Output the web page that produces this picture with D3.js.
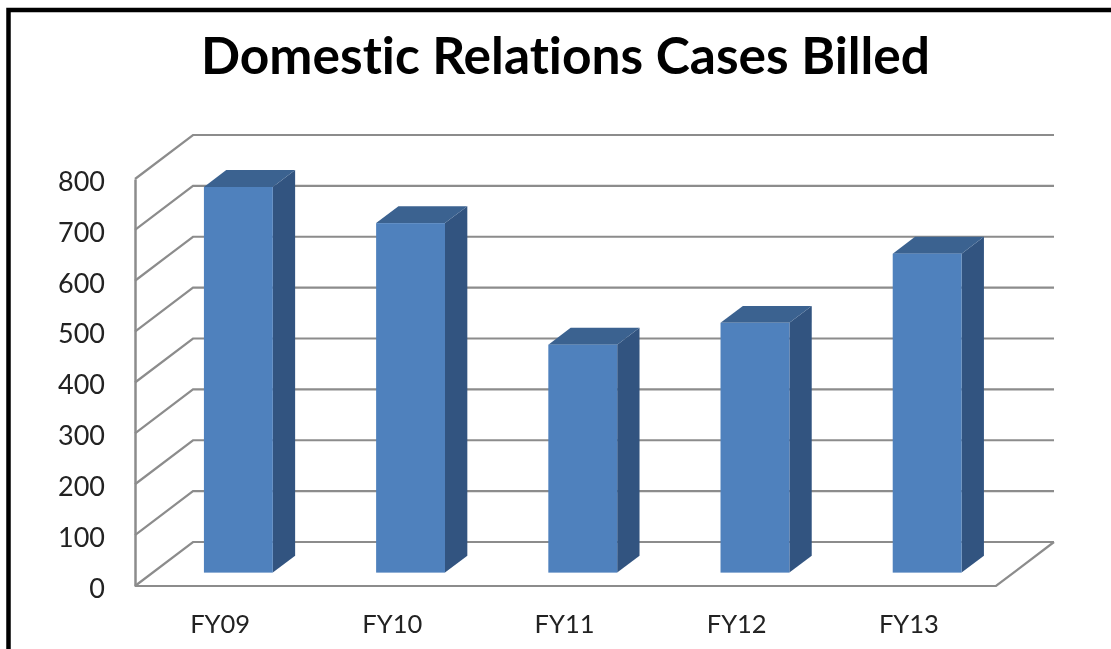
<!DOCTYPE html>
<html>
<head>
<meta charset="utf-8">
<title>Domestic Relations Cases Billed</title>
<script src="https://cdn.jsdelivr.net/npm/d3@7"></script>
<style>
  html, body { margin: 0; padding: 0; background: #fff; overflow: hidden; }
  /* the reference is a soft, upscaled screenshot */
  svg { filter: blur(0.5px); }
  text { font-family: Lato, "Open Sans", sans-serif; font-variant-ligatures: none; fill: #222; }
</style>
</head>
<body>
<svg id="chart" width="1111" height="649"></svg>
<script>
const title = 'Domestic Relations Cases Billed';
const years = ['FY09', 'FY10', 'FY11', 'FY12', 'FY13'];
const cases = [758, 687, 448, 491, 627];
const yTicks = [0, 100, 200, 300, 400, 500, 600, 700, 800];

const colors = {front: '#4f81bd', side: '#325480', top: '#3b6290', grid: '#8c8c8c'};

// front plane of the fake 3d box
const margin = {left: 135, right: 115, top: 179, bottom: 63};
const width = 1111, height = 649;
const wallDepth = {x: 58, y: 44};    // front plane to back wall
const barStart = 0.32, barEnd = 0.705;  // where the bar sits inside the depth, 0..1
const barFill = 0.4;
const barNudge = -1.3;

const svg = d3.select('#chart');

// picture frame, only top and left are visible
svg.append('path')
    .attr('d', d3.line()([[8.5, height + 5], [8.5, 10], [width + 5, 10]]))
    .attr('fill', 'none')
    .attr('stroke', '#000')
    .attr('stroke-width', 4.5);

svg.append('text')
    .attr('x', 565.5)
    .attr('y', 74)
    .attr('text-anchor', 'middle')
    .attr('font-size', 51.5)
    .attr('font-weight', 700)
    .style('fill', '#000')
    .text(title);

const xScale = d3.scaleBand()
    .domain(years)
    .range([margin.left, width - margin.right])
    .paddingInner(1 - barFill)
    .paddingOuter((1 - barFill) / 2);

const yScale = d3.scaleLinear()
    .domain([0, 800])
    .range([height - margin.bottom, margin.top]);

const backRight = width - margin.right + wallDepth.x;

// side wall and back wall lines
const grid = svg.append('g')
    .attr('fill', 'none')
    .attr('stroke', colors.grid)
    .attr('stroke-width', 2.2);

grid.selectAll('.grid-line')
    .data(yTicks)
    .enter()
  .append('path')
    .attr('class', 'grid-line')
    .attr('d', d => d3.line()([
      [margin.left, yScale(d)],
      [margin.left + wallDepth.x, yScale(d) - wallDepth.y],
      [backRight, yScale(d) - wallDepth.y]
    ]));

// floor edge
grid.append('path')
    .attr('d', d3.line()([
      [margin.left, yScale(0)],
      [width - margin.right, yScale(0)],
      [backRight, yScale(0) - wallDepth.y]
    ]));

// bars: front, top and side face
const bars = svg.selectAll('.bar')
    .data(years.map((d, i) => ({year: d, value: cases[i]})))
    .enter()
  .append('g')
    .attr('class', 'bar')
    .attr('transform', `translate(${barNudge},0.7)`);

const offX = t => wallDepth.x * t;
const offY = t => -wallDepth.y * t;

bars.append('path')
    .attr('fill', colors.side)
    .attr('d', d => {
      const r = xScale(d.year) + xScale.bandwidth(), top = yScale(d.value), bot = yScale(0);
      return d3.line()([
        [r + offX(barStart), top + offY(barStart)],
        [r + offX(barEnd), top + offY(barEnd)],
        [r + offX(barEnd), bot + offY(barEnd)],
        [r + offX(barStart), bot + offY(barStart)]
      ]) + 'Z';
    });

bars.append('path')
    .attr('fill', colors.top)
    .attr('d', d => {
      const l = xScale(d.year), r = l + xScale.bandwidth(), top = yScale(d.value);
      return d3.line()([
        [l + offX(barStart), top + offY(barStart)],
        [l + offX(barEnd), top + offY(barEnd)],
        [r + offX(barEnd), top + offY(barEnd)],
        [r + offX(barStart), top + offY(barStart)]
      ]) + 'Z';
    });

bars.append('rect')
    .attr('fill', colors.front)
    .attr('x', d => xScale(d.year) + offX(barStart))
    .attr('y', d => yScale(d.value) + offY(barStart))
    .attr('width', xScale.bandwidth())
    .attr('height', d => yScale(0) - yScale(d.value));

// axes
const yAxis = d3.axisLeft(yScale)
    .tickValues(yTicks)
    .tickSize(0)
    .tickPadding(30);

const yAxisG = svg.append('g')
    .attr('class', 'axis y-axis')
    .attr('transform', `translate(${margin.left},0)`)
    .call(yAxis);

yAxisG.select('.domain')
    .attr('stroke', colors.grid)
    .attr('stroke-width', 2.5);

const xAxis = d3.axisBottom(xScale)
    .tickSize(0)
    .tickPadding(29);

const xAxisG = svg.append('g')
    .attr('class', 'axis x-axis')
    .attr('transform', `translate(-1,${yScale(0)})`)
    .call(xAxis);

xAxisG.select('.domain').remove();

svg.selectAll('.axis text')
    .style('font-family', 'Lato, "Open Sans", sans-serif')
    .style('fill', '#222');
yAxisG.selectAll('text')
    .style('font-size', '27px')
    .attr('dy', '0.42em');
xAxisG.selectAll('text').style('font-size', '25.5px');
</script>
</body>
</html>
